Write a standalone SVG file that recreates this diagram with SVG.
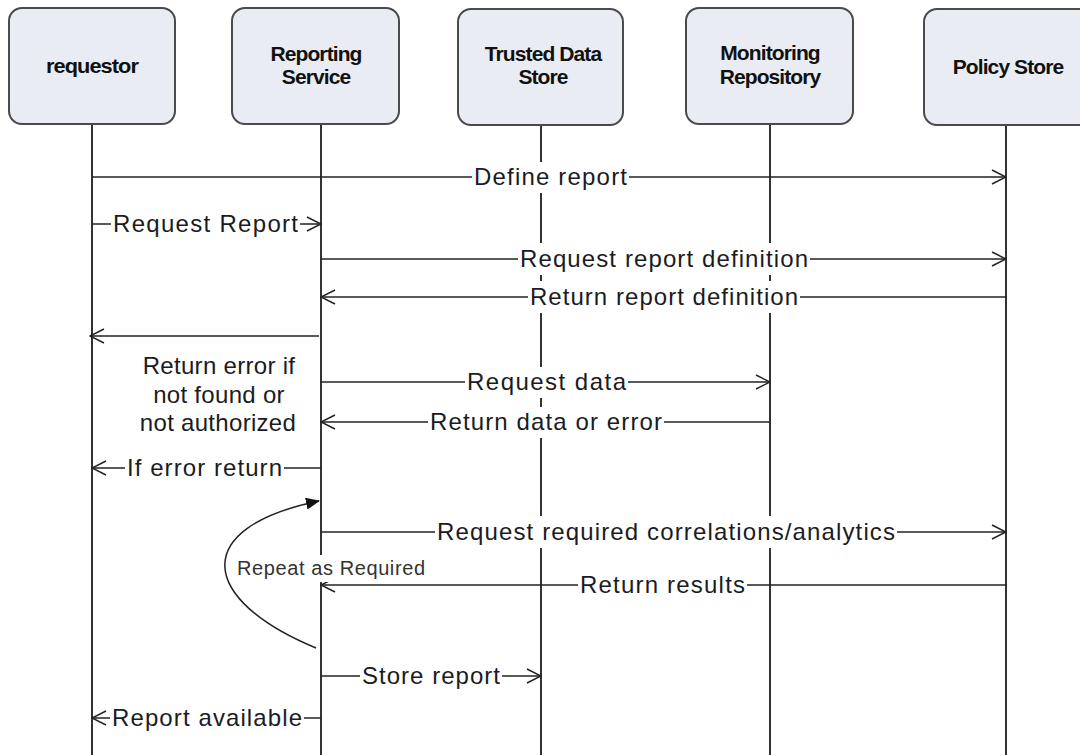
<svg xmlns="http://www.w3.org/2000/svg" width="1080" height="755" viewBox="0 0 1080 755">
  <style>
    .box { fill: #e9edf3; stroke: #4a4a4a; stroke-width: 2; }
    .title { font-family: "Liberation Sans", Arial, sans-serif; font-size: 21px; font-weight: bold; letter-spacing: -0.9px; fill: #111; text-anchor: middle; }
    .life { stroke: #333; stroke-width: 2; }
    .msg { stroke: #222; stroke-width: 1.5; fill: none; }
    .bg { fill: #fff; }
    .lbl { font-family: "Liberation Sans", Arial, sans-serif; font-size: 24px; fill: #1b1b24; text-anchor: middle; }
    .note { font-family: "Liberation Sans", Arial, sans-serif; font-size: 20px; fill: #333; text-anchor: middle; }
  </style>
  <defs>
    <marker id="open" markerUnits="userSpaceOnUse" viewBox="0 0 16 16" refX="15" refY="8" markerWidth="16" markerHeight="16" orient="auto">
      <path d="M1,1 L15,8 L1,15" fill="none" stroke="#222" stroke-width="1.5"/>
    </marker>
    <marker id="solid" markerUnits="userSpaceOnUse" viewBox="0 0 14 12" refX="13" refY="6" markerWidth="14" markerHeight="12" orient="auto">
      <path d="M0,0 L14,6 L0,12 z" fill="#111"/>
    </marker>
  </defs>
  <rect width="1080" height="755" fill="#fff"/>

  <!-- participants with their lifelines -->
  <g id="requestor">
    <line class="life" x1="92" y1="124" x2="92" y2="755"/>
    <rect class="box" x="9" y="8" width="166" height="116" rx="13"/>
    <text class="title" x="92" y="73" textLength="92" lengthAdjust="spacingAndGlyphs">requestor</text>
  </g>
  <g id="reporting-service">
    <line class="life" x1="321" y1="124" x2="321" y2="755"/>
    <rect class="box" x="232" y="8" width="167" height="116" rx="13"/>
    <text class="title" x="316" y="61">Reporting</text>
    <text class="title" x="316" y="84">Service</text>
  </g>
  <g id="trusted-data-store">
    <line class="life" x1="541" y1="124" x2="541" y2="755"/>
    <rect class="box" x="458" y="9" width="165" height="116" rx="13"/>
    <text class="title" x="543" y="61">Trusted Data</text>
    <text class="title" x="543" y="84">Store</text>
  </g>
  <g id="monitoring-repository">
    <line class="life" x1="770" y1="124" x2="770" y2="755"/>
    <rect class="box" x="686" y="8" width="167" height="116" rx="13"/>
    <text class="title" x="770" y="60">Monitoring</text>
    <text class="title" x="770" y="84">Repository</text>
  </g>
  <g id="policy-store">
    <line class="life" x1="1006" y1="124" x2="1006" y2="755"/>
    <rect class="box" x="924" y="9" width="168" height="116" rx="13"/>
    <text class="title" x="1008" y="74">Policy Store</text>
  </g>

  <!-- messages -->
  <g id="connectors">
    <line class="msg" x1="92" y1="177" x2="1006" y2="177" marker-end="url(#open)"/>
    <rect class="bg" x="472" y="162" width="157" height="31"/>
    <text class="lbl" x="550.5" y="185" textLength="153" lengthAdjust="spacing">Define report</text>

    <line class="msg" x1="92" y1="224" x2="321" y2="224" marker-end="url(#open)"/>
    <rect class="bg" x="111" y="209" width="189" height="31"/>
    <text class="lbl" x="205.5" y="232" textLength="185" lengthAdjust="spacing">Request Report</text>

    <line class="msg" x1="321" y1="259" x2="1006" y2="259" marker-end="url(#open)"/>
    <rect class="bg" x="518" y="243" width="292" height="32"/>
    <text class="lbl" x="664" y="267" textLength="288" lengthAdjust="spacing">Request report definition</text>

    <line class="msg" x1="1006" y1="297" x2="321" y2="297" marker-end="url(#open)"/>
    <rect class="bg" x="528" y="281" width="272" height="32"/>
    <text class="lbl" x="664" y="305" textLength="268" lengthAdjust="spacing">Return report definition</text>

    <line class="msg" x1="319" y1="336" x2="90" y2="336" marker-end="url(#open)"/>
    <text class="lbl" x="219" y="374" letter-spacing="0.3">Return error if</text>
    <text class="lbl" x="219" y="403" letter-spacing="0.3">not found or</text>
    <text class="lbl" x="218" y="431" letter-spacing="0.3">not authorized</text>

    <line class="msg" x1="321" y1="382" x2="770" y2="382" marker-end="url(#open)"/>
    <rect class="bg" x="465" y="367" width="163" height="31"/>
    <text class="lbl" x="546.5" y="390" textLength="159" lengthAdjust="spacing">Request data</text>

    <line class="msg" x1="770" y1="422" x2="321" y2="422" marker-end="url(#open)"/>
    <rect class="bg" x="428" y="407" width="236" height="31"/>
    <text class="lbl" x="546" y="430" textLength="232" lengthAdjust="spacing">Return data or error</text>

    <line class="msg" x1="321" y1="468" x2="92" y2="468" marker-end="url(#open)"/>
    <rect class="bg" x="125" y="453" width="159" height="31"/>
    <text class="lbl" x="204.5" y="476" textLength="155" lengthAdjust="spacing">If error return</text>

    <line class="msg" x1="321" y1="532" x2="1006" y2="532" marker-end="url(#open)"/>
    <rect class="bg" x="435" y="516" width="462" height="32"/>
    <text class="lbl" x="666" y="540" textLength="458" lengthAdjust="spacing">Request required correlations/analytics</text>

    <line class="msg" x1="1006" y1="585" x2="321" y2="585" marker-end="url(#open)"/>
    <rect class="bg" x="578" y="570" width="169" height="31"/>
    <text class="lbl" x="662.5" y="593" textLength="165" lengthAdjust="spacing">Return results</text>

    <!-- loop back onto the reporting service -->
    <path class="msg" d="M316,648 C200,600 188,528 319,501" marker-end="url(#solid)"/>
    <rect class="bg" x="235" y="555" width="192" height="27"/>
    <text class="note" x="331" y="575" textLength="188" lengthAdjust="spacing">Repeat as Required</text>

    <line class="msg" x1="321" y1="676" x2="541" y2="676" marker-end="url(#open)"/>
    <rect class="bg" x="360" y="661" width="142" height="31"/>
    <text class="lbl" x="431" y="684" textLength="138" lengthAdjust="spacing">Store report</text>

    <line class="msg" x1="321" y1="718" x2="92" y2="718" marker-end="url(#open)"/>
    <rect class="bg" x="110" y="703" width="194" height="31"/>
    <text class="lbl" x="207" y="726" textLength="190" lengthAdjust="spacing">Report available</text>
  </g>
</svg>
